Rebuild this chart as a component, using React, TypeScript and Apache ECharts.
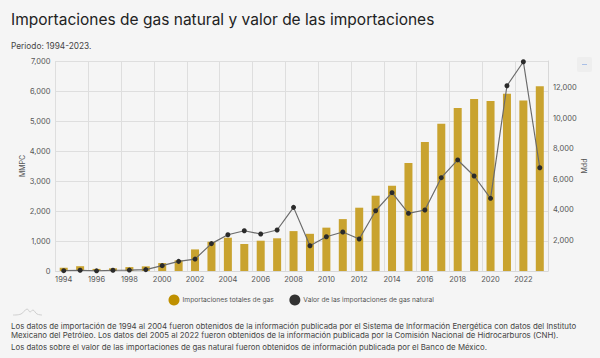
import React, { useEffect, useRef } from "react";
import * as echarts from "echarts";

const years = ["1994","1995","1996","1997","1998","1999","2000","2001","2002","2003","2004","2005","2006","2007","2008","2009","2010","2011","2012","2013","2014","2015","2016","2017","2018","2019","2020","2021","2022","2023"];
const imports = [110,160,70,90,130,155,265,355,720,975,1110,900,1010,1090,1330,1240,1445,1730,2110,2510,2845,3600,4300,4910,5430,5730,5670,5910,5680,6160];
const importValue = [20,50,10,50,60,90,350,630,780,1790,2370,2630,2420,2680,4160,1650,2240,2550,2090,3940,5120,3770,3990,6100,7260,6210,4750,12110,13680,6750];
const seriesNames = ["Importaciones totales de gas", "Valor de las importaciones de gas natural"];
const titleText = "Importaciones de gas natural y valor de las importaciones";
const subtitleText = "Periodo: 1994-2023.";
const footnotes = [
  "Los datos de importación de 1994 al 2004 fueron obtenidos de la información publicada por el Sistema de Información Energética con datos del Instituto",
  "Mexicano del Petróleo. Los datos del 2005 al 2022 fueron obtenidos de la información publicada por la Comisión Nacional de Hidrocarburos (CNH).",
  "Los datos sobre el valor de las importaciones de gas natural fueron obtenidos de información publicada por el Banco de México.",
];

const FONT = "Inter";
const fmt = (v: number) => v.toLocaleString("en-US");

export default function App() {
  const ref = useRef<HTMLDivElement>(null);
  useEffect(() => {
    if (!ref.current) return;
    const chart = echarts.init(ref.current, undefined, { renderer: "svg" });
    chart.setOption({
      animation: false,
      backgroundColor: "#f5f5f5",
      textStyle: { fontFamily: FONT },
      grid: { left: 55.5, right: 52, top: 61, bottom: 87, containLabel: false },
      legend: {
        top: 289.5,
        left: 163.5,
        itemGap: 15.5,
        itemWidth: 11,
        itemHeight: 11,
        icon: "circle",
        textStyle: { fontFamily: FONT, fontSize: 6.7, color: "#555", padding: [0, 0, 0, -2] },
        data: [
          { name: seriesNames[0], itemStyle: { color: "#bf9000" } },
          { name: seriesNames[1], itemStyle: { color: "#333333" } },
        ],
      },
      xAxis: {
        type: "category",
        data: years,
        boundaryGap: true,
        axisLine: { lineStyle: { color: "#d8d8d8" } },
        axisTick: { show: false },
        axisLabel: { interval: 1, fontSize: 7.5, color: "#555", margin: 4 },
        splitLine: { show: true, interval: 1, lineStyle: { color: "#dedede" } },
      },
      yAxis: [
        {
          type: "value",
          name: "MMPC",
          nameLocation: "middle",
          nameMoveOverlap: false,
          nameGap: 30,
          nameTextStyle: { fontSize: 7, color: "#555" },
          min: 0,
          max: 7000,
          interval: 1000,
          axisLine: { show: false },
          axisTick: { show: false },
          axisLabel: { fontSize: 7.5, color: "#555", margin: 5, formatter: fmt },
          splitLine: { lineStyle: { color: "#dedede" } },
        },
        {
          type: "value",
          name: "Mdd",
          nameLocation: "middle",
          nameMoveOverlap: false,
          nameRotate: 90,
          nameGap: 33,
          nameTextStyle: { fontSize: 7, color: "#555" },
          min: 0,
          max: 13730,
          interval: 2000,
          axisLine: { show: true, lineStyle: { color: "#d8d8d8" } },
          axisTick: { show: false },
          axisLabel: { fontSize: 7.5, color: "#555", margin: 5, showMinLabel: false, showMaxLabel: false, formatter: fmt },
          splitLine: { show: false },
        },
      ],
      series: [
        {
          name: seriesNames[0],
          type: "bar",
          data: imports,
          barWidth: 8,
          itemStyle: { color: "#c9a32f" },
        },
        {
          name: seriesNames[1],
          type: "line",
          yAxisIndex: 1,
          data: importValue,
          symbol: "circle",
          symbolSize: 5,
          lineStyle: { color: "#6b6b6b", width: 1.2 },
          itemStyle: { color: "#2b2b2b" },
        },
      ],
      graphic: [
        { type: "text", x: 11, y: 11, style: { text: titleText, fontFamily: FONT, fontSize: 15.5, fill: "#222" } },
        { type: "text", x: 11, y: 41.5, style: { text: subtitleText, fontFamily: FONT, fontSize: 8.3, fill: "#444" } },
        ...footnotes.map((t, i) => ({
          type: "text",
          x: 11,
          y: [321.5, 331, 342.5][i],
          style: { text: t, fontFamily: FONT, fontSize: 7.85, fill: "#444" },
        })),
        { type: "rect", shape: { x: 577, y: 57, width: 15, height: 15, r: 2 }, style: { fill: "#eeeeee" } },
        { type: "rect", shape: { x: 582, y: 64, width: 5, height: 1 }, style: { fill: "#a9bfe6" } },
        {
          type: "polyline",
          shape: { points: [[13, 315], [21, 314], [27, 309], [30, 312], [33, 310], [37, 314], [42, 315]], smooth: 0.4 },
          style: { fill: "none", stroke: "#cfcfcf", lineWidth: 1 },
        },
      ],
    });
    return () => chart.dispose();
  }, []);
  return <div ref={ref} style={{ position: "fixed", left: 0, top: 0, width: 600, height: 358 }} />;
}
